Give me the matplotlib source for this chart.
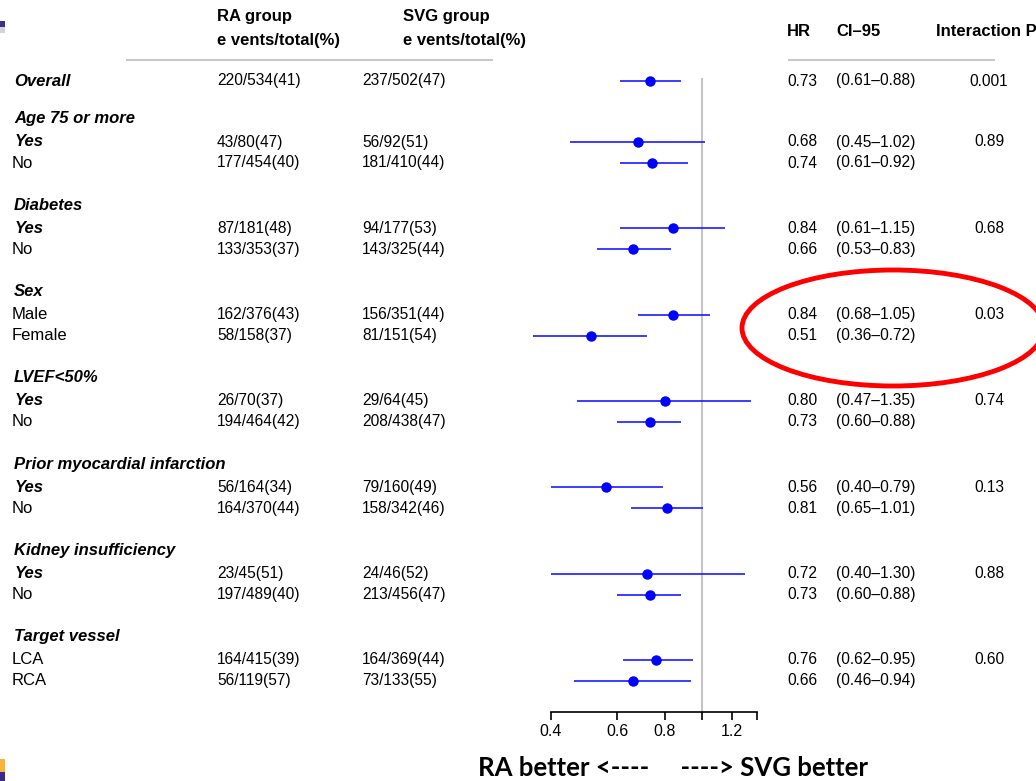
import numpy as np
import matplotlib
matplotlib.use("Agg")
import matplotlib.pyplot as plt
from matplotlib.patches import Ellipse, Rectangle
from matplotlib.ticker import NullLocator

plt.rcParams['font.family'] = ['Liberation Sans', 'DejaVu Sans']

# data
groups = ["Age 75 or more", "Diabetes", "Sex", "LVEF<50%",
          "Prior myocardial infarction", "Kidney insufficiency", "Target vessel"]
subgroups = [["Yes", "No"], ["Yes", "No"], ["Male", "Female"], ["Yes", "No"],
             ["Yes", "No"], ["Yes", "No"], ["LCA", "RCA"]]

# first entry = Overall, then two rows per group
ra_events = [220, 43, 177, 87, 133, 162, 58, 26, 194, 56, 164, 23, 197, 164, 56]
ra_total = [534, 80, 454, 181, 353, 376, 158, 70, 464, 164, 370, 45, 489, 415, 119]
ra_pct = [41, 47, 40, 48, 37, 43, 37, 37, 42, 34, 44, 51, 40, 39, 57]
svg_events = [237, 56, 181, 94, 143, 156, 81, 29, 208, 79, 158, 24, 213, 164, 73]
svg_total = [502, 92, 410, 177, 325, 351, 151, 64, 438, 160, 342, 46, 456, 369, 133]
svg_pct = [47, 51, 44, 53, 44, 44, 54, 45, 47, 49, 46, 52, 47, 44, 55]
hr = [0.73, 0.68, 0.74, 0.84, 0.66, 0.84, 0.51, 0.80, 0.73, 0.56, 0.81, 0.72, 0.73, 0.76, 0.66]
ci_lo = [0.61, 0.45, 0.61, 0.61, 0.53, 0.68, 0.36, 0.47, 0.60, 0.40, 0.65, 0.40, 0.60, 0.62, 0.46]
ci_hi = [0.88, 1.02, 0.92, 1.15, 0.83, 1.05, 0.72, 1.35, 0.88, 0.79, 1.01, 1.30, 0.88, 0.95, 0.94]
p_int = ["0.001", "0.89", "", "0.68", "", "0.03", "", "0.74", "", "0.13", "", "0.88", "", "0.60", ""]

xticks = [0.4, 0.6, 0.8, 1.0, 1.2, 1.4]
xticklabels = ["0.4", "0.6", "0.8", "", "1.2", ""]

# layout (pixel rows)
W, H = 1036, 781
y_overall = 81
head_y = [119 + k * 86.3 for k in range(len(groups))]
row_y = [y_overall]
for hy in head_y:
    row_y += [hy + 23, hy + 44]

fig = plt.figure(figsize=(W / 100, H / 100), dpi=100)
ax = fig.add_axes([0, 0, 1, 1])
ax.set_xlim(0, W)
ax.set_ylim(H, 0)
ax.axis('off')

fs = 11.2      # numbers
fs_lab = 12    # row labels
fs_head = 12   # column headers
x_lab, x_ra, x_svg, x_hr, x_ci, x_p = 12, 217, 362, 787, 836, 989

# headers
ax.text(x_ra, 17, "RA group", fontsize=fs_head, fontweight='bold', va='center')
ax.text(x_ra, 40, "e vents/total(%)", fontsize=fs_head, fontweight='bold', va='center')
ax.text(403, 17, "SVG group", fontsize=fs_head, fontweight='bold', va='center')
ax.text(403, 40, "e vents/total(%)", fontsize=fs_head, fontweight='bold', va='center')
ax.text(x_hr, 31, "HR", fontsize=fs_head, fontweight='bold', va='center')
ax.text(x_ci, 31, "CI\u201395", fontsize=fs_head, fontweight='bold', va='center')
ax.text(936, 31, "Interaction P", fontsize=fs_head, fontweight='bold', va='center')
ax.plot([127, 492], [60, 60], color='#c8c8c8', lw=1.5)
ax.plot([789, 994], [60, 60], color='#c8c8c8', lw=1.5)

# labels
ax.text(x_lab + 2, y_overall, "Overall", fontsize=fs_lab, fontweight='bold', style='italic', va='center')
for k, g in enumerate(groups):
    ax.text(x_lab + 2, head_y[k], g, fontsize=fs_lab, fontweight='bold', style='italic', va='center')
    for j, s in enumerate(subgroups[k]):
        bold = s == "Yes"
        ax.text(x_lab + (3 if bold else 0), head_y[k] + (23 if j == 0 else 44), s, fontsize=fs_lab,
                fontweight='bold' if bold else 'normal',
                style='italic' if bold else 'normal', va='center')

for i, y in enumerate(row_y):
    ax.text(x_ra, y, f"{ra_events[i]}/{ra_total[i]}({ra_pct[i]})", fontsize=fs, va='center')
    ax.text(x_svg, y, f"{svg_events[i]}/{svg_total[i]}({svg_pct[i]})", fontsize=fs, va='center')
    ax.text(x_hr, y, f"{hr[i]:.2f}", fontsize=fs, va='center')
    ax.text(x_ci, y, f"({ci_lo[i]:.2f}\u2013{ci_hi[i]:.2f})", fontsize=fs, va='center')
    if p_int[i]:
        ax.text(x_p, y, p_int[i], fontsize=fs, va='center', ha='center')

# forest axes (log scale, ~165 px per log unit, 1.0 at x=701.7)
left_px, right_px = 500, 780
fa = fig.add_axes([left_px / W, 0, (right_px - left_px) / W, 1])
fa.patch.set_alpha(0)
fa.set_xscale('log')
fa.set_xlim(np.exp((left_px - 701.7) / 165), np.exp((right_px - 701.7) / 165))
fa.set_ylim(H, 0)
for sp in ['top', 'left', 'right']:
    fa.spines[sp].set_visible(False)
fa.spines['bottom'].set_position(('data', 712))
fa.spines['bottom'].set_bounds(0.4, 1.4)
fa.spines['bottom'].set_linewidth(1.2)
fa.set_yticks([])
fa.set_xticks(xticks)
fa.set_xticklabels(xticklabels)
fa.xaxis.set_minor_locator(NullLocator())
fa.tick_params(axis='x', direction='out', length=6, width=1.2, labelsize=11.5, pad=3)

fa.plot([1, 1], [79, 712], color='#c4c4c4', lw=1.5, zorder=1)
fa.hlines(row_y, ci_lo, ci_hi, color='#1a1aff', lw=1.2, zorder=2)
fa.plot(hr, row_y, 'o', color='#0000ff', ms=6.5, zorder=3)

# bottom caption
ax.text(478, 768, "RA better <----     ----> SVG better", fontsize=18.5,
        fontweight='bold', family=['Lato', 'DejaVu Sans'], va='center', ha='left')

# red highlight ellipse
ax.add_patch(Ellipse((893, 328), 302, 116, fill=False, ec='#ff0000', lw=3.5))

# slide decorations on the left edge
ax.add_patch(Rectangle((0, 21), 5, 6, color='#3b2f8f', lw=0))
ax.add_patch(Rectangle((0, 27), 5, 6, color='#d4d4d4', lw=0))
ax.add_patch(Rectangle((0, 759), 5, 13, color='#f5b53a', lw=0))
ax.add_patch(Rectangle((0, 772), 5, 9, color='#3b2a8c', lw=0))

fig.savefig("out.png", dpi=100)
